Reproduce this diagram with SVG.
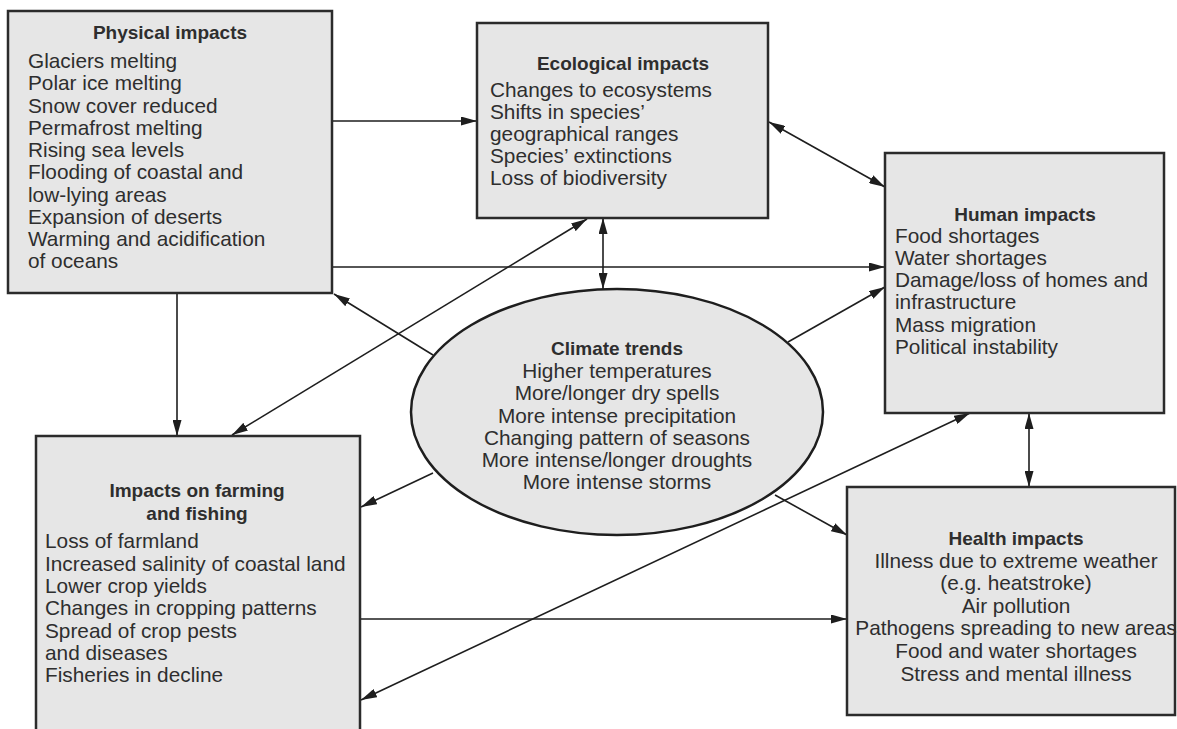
<svg xmlns="http://www.w3.org/2000/svg" width="1177" height="729" viewBox="0 0 1177 729">
<style>
.box{fill:#e6e6e6;stroke:#2b2b2b;stroke-width:2.5}
.t{font-family:"Liberation Sans",Arial,sans-serif;font-size:20.8px;fill:#2e2e2e}
.h{font-family:"Liberation Sans",Arial,sans-serif;font-size:19px;font-weight:bold;fill:#2e2e2e}
.c{text-anchor:middle}
.ln{fill:none;stroke:#1e1e1e;stroke-width:1.6}
.a{marker-end:url(#ar)}
.d{marker-start:url(#ar);marker-end:url(#ar)}
</style>
<defs>
<marker id="ar" viewBox="0 0 16 9" refX="16" refY="4.5" markerWidth="16" markerHeight="9" markerUnits="userSpaceOnUse" orient="auto-start-reverse">
<path d="M0,0 L16,4.5 L0,9 z" fill="#1e1e1e"/>
</marker>
</defs>
<rect width="1177" height="729" fill="#ffffff"/>

<g id="connectors">
<path class="ln a" d="M332,121 H477"/>
<path class="ln a" d="M332,267 H885"/>
<path class="ln a" d="M177,293 V436"/>
<path class="ln a" d="M433,355 L334,294"/>
<path class="ln d" d="M587,219 L232,435"/>
<path class="ln d" d="M603,218 V289"/>
<path class="ln d" d="M769,122 L885,187"/>
<path class="ln a" d="M788,342 L885,287"/>
<path class="ln d" d="M361,700 L970,413"/>
<path class="ln d" d="M1029,413 V487"/>
<path class="ln a" d="M433,473 L361,507"/>
<path class="ln a" d="M775,495 L847,535"/>
<path class="ln a" d="M360,619 H847"/>
</g>

<g id="physical">
<rect class="box" x="8" y="11" width="324" height="282"/>
<text class="h c" x="170" y="39">Physical impacts</text>
<text class="t" x="28" y="68">Glaciers melting</text>
<text class="t" x="28" y="90">Polar ice melting</text>
<text class="t" x="28" y="112.5">Snow cover reduced</text>
<text class="t" x="28" y="134.5">Permafrost melting</text>
<text class="t" x="28" y="157">Rising sea levels</text>
<text class="t" x="28" y="179">Flooding of coastal and</text>
<text class="t" x="28" y="201.5">low-lying areas</text>
<text class="t" x="28" y="223.5">Expansion of deserts</text>
<text class="t" x="28" y="246">Warming and acidification</text>
<text class="t" x="28" y="268">of oceans</text>
</g>

<g id="ecological">
<rect class="box" x="477" y="23" width="291" height="195"/>
<text class="h c" x="623" y="70">Ecological impacts</text>
<text class="t" x="490" y="96.5">Changes to ecosystems</text>
<text class="t" x="490" y="118.5">Shifts in species’</text>
<text class="t" x="490" y="140.5">geographical ranges</text>
<text class="t" x="490" y="162.5">Species’ extinctions</text>
<text class="t" x="490" y="184.5">Loss of biodiversity</text>
</g>

<g id="human">
<rect class="box" x="885" y="153" width="279" height="260"/>
<text class="h c" x="1025" y="221">Human impacts</text>
<text class="t" x="895" y="243">Food shortages</text>
<text class="t" x="895" y="265">Water shortages</text>
<text class="t" x="895" y="287">Damage/loss of homes and</text>
<text class="t" x="895" y="309">infrastructure</text>
<text class="t" x="895" y="331.5">Mass migration</text>
<text class="t" x="895" y="353.5">Political instability</text>
</g>

<g id="climate">
<ellipse cx="617" cy="412" rx="206" ry="123" fill="#e6e6e6" stroke="#1e1e1e" stroke-width="2.5"/>
<text class="h c" x="617" y="355">Climate trends</text>
<text class="t c" x="617" y="378">Higher temperatures</text>
<text class="t c" x="617" y="400">More/longer dry spells</text>
<text class="t c" x="617" y="423">More intense precipitation</text>
<text class="t c" x="617" y="445">Changing pattern of seasons</text>
<text class="t c" x="617" y="467">More intense/longer droughts</text>
<text class="t c" x="617" y="489">More intense storms</text>
</g>

<g id="farming">
<rect class="box" x="36" y="436" width="324" height="300"/>
<text class="h c" x="197" y="497">Impacts on farming</text>
<text class="h c" x="197" y="520">and fishing</text>
<text class="t" x="45" y="548">Loss of farmland</text>
<text class="t" x="45" y="571">Increased salinity of coastal land</text>
<text class="t" x="45" y="593">Lower crop yields</text>
<text class="t" x="45" y="615">Changes in cropping patterns</text>
<text class="t" x="45" y="637.5">Spread of crop pests</text>
<text class="t" x="45" y="659.5">and diseases</text>
<text class="t" x="45" y="682">Fisheries in decline</text>
</g>

<g id="health">
<rect class="box" x="847" y="487" width="328" height="228"/>
<text class="h c" x="1016" y="545">Health impacts</text>
<text class="t c" x="1016" y="568">Illness due to extreme weather</text>
<text class="t c" x="1016" y="590">(e.g. heatstroke)</text>
<text class="t c" x="1016" y="613">Air pollution</text>
<text class="t c" x="1016" y="635">Pathogens spreading to new areas</text>
<text class="t c" x="1016" y="658">Food and water shortages</text>
<text class="t c" x="1016" y="681">Stress and mental illness</text>
</g>
</svg>
